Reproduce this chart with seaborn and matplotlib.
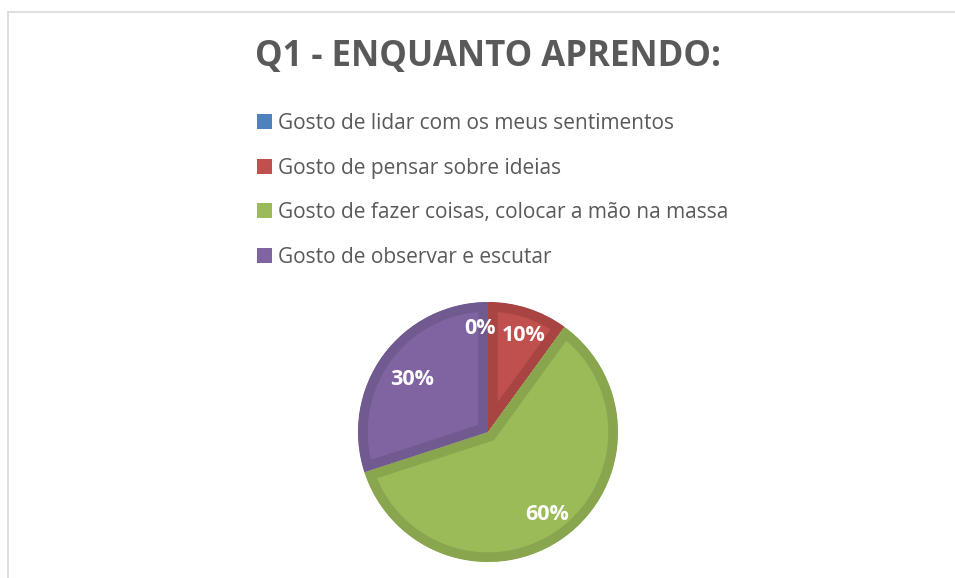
import matplotlib
matplotlib.use("Agg")
import matplotlib.pyplot as plt
from matplotlib.patches import Patch
from matplotlib.lines import Line2D
import seaborn as sns

sns.set_theme(style="white")
plt.rcParams['font.family'] = ['Open Sans', 'DejaVu Sans']

title = "Q1 - ENQUANTO APRENDO:"
categories = [
    "Gosto de lidar com os meus sentimentos",
    "Gosto de pensar sobre ideias",
    "Gosto de fazer coisas, colocar a mão na massa",
    "Gosto de observar e escutar",
]
percent = [0, 10, 60, 30]

fills = sns.color_palette(["#4F81BD", "#C0504D", "#9BBB59", "#8064A2"])
edges = sns.color_palette(["#45719F", "#A84543", "#89A64E", "#715A8F"])
text_grey = "#595959"

fig = plt.figure(figsize=(9.55, 5.78), dpi=100)
W, H = 955, 578

# chart area border (only top and left visible in the crop)
fig.add_artist(Line2D([8 / W, 1], [1 - 12 / H, 1 - 12 / H], color="#d9d9d9", lw=1.2))
fig.add_artist(Line2D([8 / W, 8 / W], [0, 1 - 12 / H], color="#d9d9d9", lw=1.2))

fig.text(488 / W, 1 - 57 / H, title, ha="center", va="center",
         fontsize=25, fontweight="bold", color=text_grey)

# pie
cx, cy, r = 488, 432, 130
ax = fig.add_axes([(cx - r) / W, (H - cy - r) / H, 2 * r / W, 2 * r / H])
wedges, _, autotexts = ax.pie(
    percent, colors=fills, startangle=90, counterclock=False,
    autopct="%.0f%%", pctdistance=0.78, radius=1,
    wedgeprops=dict(linewidth=14),
    textprops=dict(color="white", fontsize=15.5, fontweight="bold"),
)
# stroke only on the inside of each slice, like the spreadsheet style
for w, ec in zip(wedges, edges):
    w.set_edgecolor(ec)
    w.set_clip_on(True)
    w.set_clip_path(w)
# the 0% and 10% labels sit side by side near the top
x0, y0 = autotexts[0].get_position()
autotexts[0].set_position((x0 - 0.06, y0 + 0.02))
x1, y1 = autotexts[1].get_position()
autotexts[1].set_position((x1 + 0.03, y1))
# 30% label sits a bit closer to the centre
x3, y3 = autotexts[3].get_position()
autotexts[3].set_position((x3 * 0.92, y3 * 0.88))
ax.set_xlim(-1, 1)
ax.set_ylim(-1, 1)
ax.set_aspect("equal")
ax.axis("off")

handles = [Patch(facecolor=c, edgecolor="none") for c in fills]
fig.legend(handles, categories, loc="upper left",
           bbox_to_anchor=(257 / W, 1 - 113 / H), frameon=False,
           fontsize=15, labelcolor=text_grey, handlelength=0.7,
           handleheight=0.7, handletextpad=0.3, labelspacing=1.13,
           borderpad=0, borderaxespad=0)

fig.savefig("out.png", dpi=100)
